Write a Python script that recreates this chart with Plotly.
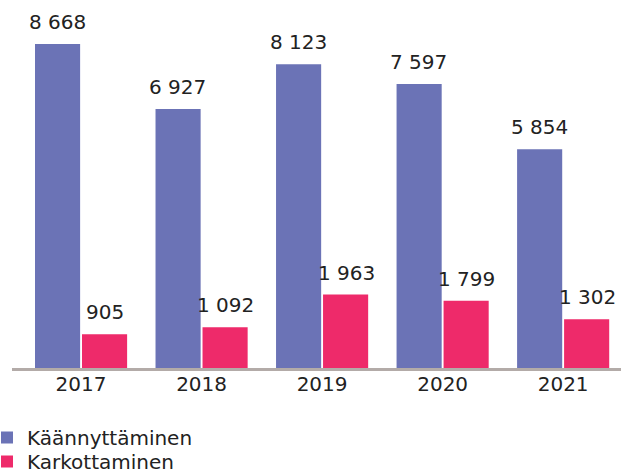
import plotly.graph_objects as go

years = ["2017", "2018", "2019", "2020", "2021"]
kaannyttaminen = [8668, 6927, 8123, 7597, 5854]
karkottaminen = [905, 1092, 1963, 1799, 1302]
series_names = ["Käännyttäminen", "Karkottaminen"]

BLUE = "#6b73b6"
PINK = "#ee2a6a"
FONT = "DejaVu Sans"
TXT = "#222222"
FS = 20


def fmt(v):
    return f"{v:,}".replace(",", " ")


fig = go.Figure()
fig.add_trace(go.Bar(x=years, y=kaannyttaminen, name=series_names[0],
                     marker=dict(color=BLUE, line=dict(width=0)), legend="legend"))
fig.add_trace(go.Bar(x=years, y=karkottaminen, name=series_names[1],
                     marker=dict(color=PINK, line=dict(width=0)), legend="legend2"))

annotations = []
for vals, shift in ((kaannyttaminen, -24), (karkottaminen, 24)):
    for i, v in enumerate(vals):
        annotations.append(dict(x=i, y=v, xref="x", yref="y", text=fmt(v),
                                showarrow=False, yanchor="bottom", xanchor="center",
                                xshift=shift, yshift=8,
                                font=dict(family=FONT, size=FS, color=TXT)))

legend_common = dict(orientation="v", xref="paper", yref="container",
                     x=-25 / 609, xanchor="left", yanchor="top",
                     font=dict(family=FONT, size=FS, color=TXT),
                     bgcolor="rgba(0,0,0,0)", itemsizing="constant")

fig.update_layout(
    width=621, height=470,
    margin=dict(l=12, r=0, t=0, b=102, autoexpand=False),
    paper_bgcolor="white", plot_bgcolor="white",
    barmode="group", bargap=0.22, bargroupgap=0.04,
    font=dict(family=FONT, size=FS, color=TXT),
    showlegend=True,
    legend=dict(y=1 - 418 / 470, **legend_common),
    legend2=dict(y=1 - 442 / 470, **legend_common),
    annotations=annotations,
)
fig.update_xaxes(type="category", range=[-0.573, 4.48], showline=True,
                 linecolor="#b3aba8", linewidth=3, ticks="", showgrid=False,
                 ticklabelstandoff=-4,
                 tickfont=dict(family=FONT, size=FS, color=TXT))
fig.update_yaxes(range=[0, 9845], visible=False, showgrid=False, zeroline=False)

fig.write_html("out.html", config={"displayModeBar": False},
               post_script="document.body.style.margin='0px';")
